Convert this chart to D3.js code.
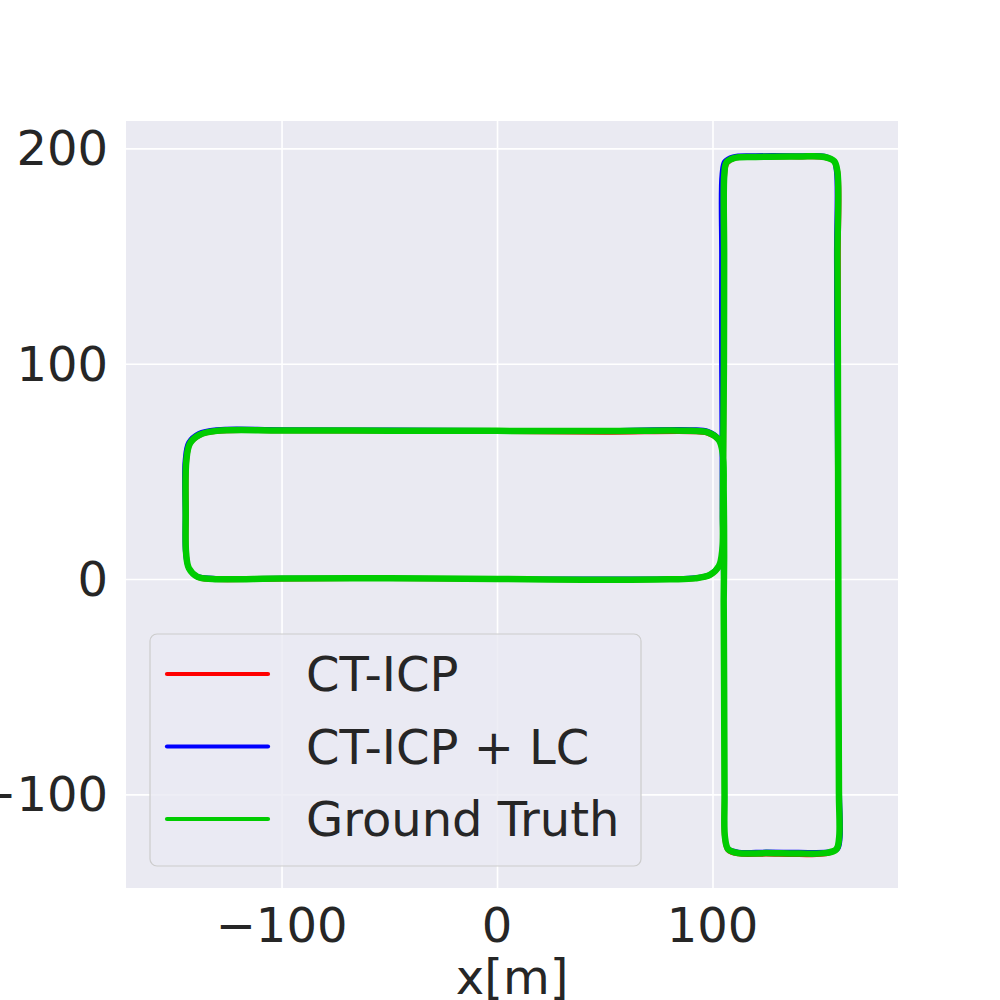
<!DOCTYPE html>
<html>
<head>
<meta charset="utf-8">
<script src="https://cdn.jsdelivr.net/npm/d3@7"></script>
<style>
html,body{margin:0;padding:0;background:#fff;}
svg{display:block;font-family:"DejaVu Sans",sans-serif;}
</style>
</head>
<body>
<svg id="chart" width="1000" height="1000"></svg>
<script>
// ---- data (metres) ----
const seriesNames = ["CT-ICP", "CT-ICP + LC", "Ground Truth"];
const seriesColors = ["#ff0000", "#0000ff", "#00cc00"];
const xTicks = [-100, 0, 100];
const yTicks = [-100, 0, 100, 200];
const xLabel = "x[m]";

const ctIcp = [
[0,-0.3],[40,-0.6],[80,-0.4],[92,0],[99,1.6],[103,5.6],[104.8,14],[105.2,30],[105.4,60],[105.6,100],[105.8,150],[105.9,188],[107,193],[110.5,195.2],[120,195.6],[140,195.8],[152,195.5],[156.8,193.5],[158.4,189],[158.6,150],[158.6,100],[158.5,50],[158.5,0],[158.5,-50],[158.6,-100],[158.6,-120],[157.2,-126],[152.5,-127.9],[140,-128.2],[125,-128],[112,-127.9],[107,-126],[105.4,-120],[105.3,-100],[105.2,-50],[105.2,-10],[105.2,10],[105,40],[104.8,58],[103,64],[97.5,67.5],[90,68.2],[50,67.9],[0,68.3],[-50,68.5],[-100,68.6],[-130,68.4],[-137.8,66.6],[-142.2,62.8],[-143.8,55],[-144,30],[-144,12],[-142.8,5],[-139,0.6],[-132,-0.4],[-100,-0.2],[-50,0],[0,-0.3]
];
const ctIcpLc = [
[0,0.3],[40,0.2],[80,0.4],[92,0.8],[99,2.5],[103,6.5],[104.3,14],[104.3,30],[104.2,60],[104,100],[104,150],[104.2,188],[105.5,194],[109.5,196.3],[120,196.8],[140,196.8],[152,196.6],[156,194.5],[157.3,189],[157.3,150],[157.5,100],[157.8,50],[158.2,0],[158.7,-50],[159.2,-100],[159.5,-120],[158.2,-125.5],[153.5,-126.6],[140,-126.7],[125,-126.6],[112,-126.6],[107.3,-125],[106,-120],[105.6,-100],[105.4,-50],[105.1,-10],[104.7,10],[104.5,40],[104.6,58],[103.2,65],[98,68.8],[90,69.6],[50,69.2],[0,69.2],[-50,69.4],[-100,69.6],[-130,69.6],[-138.5,67.8],[-143.3,63.5],[-145,55],[-145,30],[-144.8,12],[-143.2,5],[-139,1.5],[-132,0.6],[-100,0.6],[-50,0.6],[0,0.3]
];
const groundTruth = [
[0,0],[40,-0.3],[80,-0.1],[92,0.3],[99,2],[103,6],[104.6,14],[104.8,30],[105,60],[105.3,100],[105.4,150],[105.5,188],[106.5,193.5],[110,195.5],[120,196],[140,196.2],[152,196],[156.5,194],[158,189],[158,150],[158.2,100],[158.3,50],[158.4,0],[158.5,-50],[158.7,-100],[158.8,-120],[157.5,-125.5],[153,-127.2],[140,-127.5],[125,-127.3],[112,-127.3],[107.3,-125.5],[105.8,-120],[105.6,-100],[105.4,-50],[105.2,-10],[105.4,10],[105.2,40],[104.8,58],[103,64.5],[98,68],[90,68.8],[50,68.7],[0,68.8],[-50,68.9],[-100,69],[-130,68.8],[-138,67],[-142.5,63],[-144.2,55],[-144.5,30],[-144.3,12],[-143,5],[-139,1],[-132,0],[-100,0.2],[-50,0.3],[0,0]
];
const allSeries = [ctIcp, ctIcpLc, groundTruth];

// ---- layout ----
const svg = d3.select("#chart");
const plot = {left:126, right:898, top:121, bottom:888};
const x = d3.scaleLinear().domain([-172.2, 186.1]).range([plot.left, plot.right]);
const y = d3.scaleLinear().domain([-143.5, 212.7]).range([plot.bottom, plot.top]);
const textColor = "#262626";
const fs = 48;

svg.append("rect").attr("x", plot.left).attr("y", plot.top)
  .attr("width", plot.right-plot.left).attr("height", plot.bottom-plot.top)
  .attr("fill", "#eaeaf2");

// grid
const gx = svg.append("g").attr("transform", `translate(0,${plot.bottom})`)
  .call(d3.axisBottom(x).tickValues(xTicks).tickSize(-(plot.bottom-plot.top)).tickFormat(""));
const gy = svg.append("g").attr("transform", `translate(${plot.left},0)`)
  .call(d3.axisLeft(y).tickValues(yTicks).tickSize(-(plot.right-plot.left)).tickFormat(""));
[gx, gy].forEach(g => {
  g.select(".domain").remove();
  g.selectAll(".tick line").attr("stroke", "#ffffff").attr("stroke-width", 1.6);
});

// tick labels
const fmt = v => v < 0 ? "\u2212" + Math.abs(v) : String(v);
svg.append("g").selectAll("text").data(xTicks).join("text")
  .attr("x", d => x(d)).attr("y", 942).attr("text-anchor", "middle")
  .attr("font-size", fs).attr("fill", textColor).text(fmt);
svg.append("g").selectAll("text").data(yTicks).join("text")
  .attr("x", 108).attr("y", d => y(d) + 17).attr("text-anchor", "end")
  .attr("font-size", fs).attr("fill", textColor).text(fmt);

svg.append("text").attr("x", x(7)).attr("y", 994).attr("text-anchor", "middle")
  .attr("font-size", fs).attr("fill", textColor).text(xLabel);

// lines
svg.append("clipPath").attr("id", "clip").append("rect")
  .attr("x", plot.left).attr("y", plot.top)
  .attr("width", plot.right-plot.left).attr("height", plot.bottom-plot.top);
const line = d3.line().x(d => x(d[0])).y(d => y(d[1])).curve(d3.curveCatmullRom.alpha(0.5));
const widths = [4, 4, 6.5];
const lg = svg.append("g").attr("clip-path", "url(#clip)");
allSeries.forEach((s, i) => {
  lg.append("path").datum(s).attr("d", line)
    .attr("fill", "none").attr("stroke", seriesColors[i])
    .attr("stroke-width", widths[i]).attr("stroke-linejoin", "round").attr("stroke-linecap", "round");
});

// legend
const leg = svg.append("g");
leg.append("rect").attr("x", 150).attr("y", 634).attr("width", 491).attr("height", 232)
  .attr("rx", 7).attr("fill", "#eaeaf2").attr("fill-opacity", 0.8)
  .attr("stroke", "#cccccc").attr("stroke-width", 1.2);
seriesNames.forEach((n, i) => {
  const cy = 674 + i * 72.5;
  leg.append("line").attr("x1", 167).attr("x2", 268).attr("y1", cy).attr("y2", cy)
    .attr("stroke", seriesColors[i]).attr("stroke-width", 4.2).attr("stroke-linecap", "round");
  leg.append("text").attr("x", 306).attr("y", cy + 17).attr("font-size", fs)
    .attr("fill", textColor).text(n);
});
</script>
</body>
</html>
